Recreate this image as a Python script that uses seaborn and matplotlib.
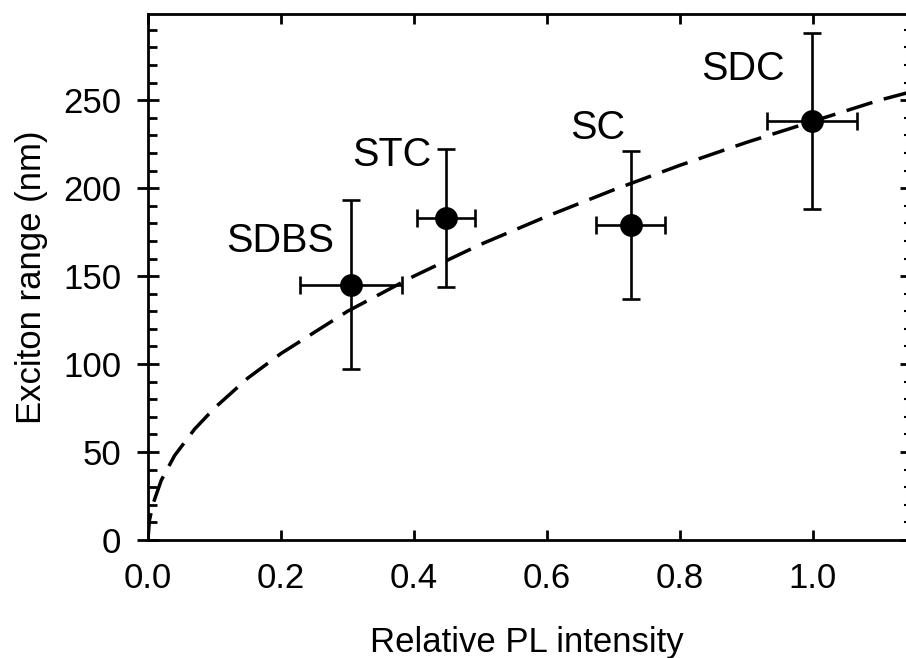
import numpy as np
import pandas as pd
import matplotlib
matplotlib.use("Agg")
import matplotlib.pyplot as plt
from matplotlib.ticker import MultipleLocator
import seaborn as sns

# --- data ---
surfactants = ["SDBS", "STC", "SC", "SDC"]
pl_intensity = [0.305, 0.448, 0.726, 0.999]
pl_err = [0.077, 0.044, 0.052, 0.068]
exciton_range = [145, 183, 179, 238]
range_err = [48, 39, 42, 50]

# label anchor positions (data units)
label_x = [0.199, 0.367, 0.677, 0.895]
label_y = [170, 219, 234, 268]

# dashed guide curve, read at several points
fit_x = [0.0, 0.002, 0.008, 0.02, 0.04, 0.07, 0.1, 0.15, 0.2, 0.3, 0.4,
         0.5, 0.6, 0.7, 0.8, 0.9, 1.0, 1.1, 1.15]
fit_y = [0, 11, 21, 34, 48, 63, 75, 92, 106, 130, 150,
         168, 184, 199, 213, 226, 238, 250, 255]

points_df = pd.DataFrame({"x": pl_intensity, "y": exciton_range, "name": surfactants})
fit_df = pd.DataFrame({"x": fit_x, "y": fit_y})

sns.set_style("ticks")
plt.rcParams["font.family"] = ["Liberation Sans", "DejaVu Sans"]
plt.rcParams["axes.linewidth"] = 2.0
plt.rcParams["text.color"] = "black"
plt.rcParams["axes.labelcolor"] = "black"
plt.rcParams["xtick.color"] = "black"
plt.rcParams["ytick.color"] = "black"
fs = 25
fs_label = 28.5

fig = plt.figure(figsize=(9.06, 6.58), dpi=100)
ax = fig.add_axes([148 / 906, 1 - 540 / 658, 1 - 148 / 906, (540 - 14) / 658])

# guide curve
sns.lineplot(data=fit_df, x="x", y="y", color="black", lw=2.5, ax=ax)
ax.lines[-1].set_linestyle((0, (7.8, 3.4)))

# measured points with error bars
ax.errorbar(pl_intensity, exciton_range, xerr=pl_err, yerr=range_err,
            fmt="none", ecolor="black", elinewidth=1.9, capsize=6.5,
            capthick=1.9, zorder=3)
sns.scatterplot(data=points_df, x="x", y="y", color="black", s=270,
                edgecolor="black", linewidth=0, zorder=4, ax=ax)

for name, lx, ly in zip(surfactants, label_x, label_y):
    ax.text(lx, ly, name, fontsize=fs_label, ha="center", va="center",
            color="black")

ax.set_xlim(0, 1.14)
ax.set_ylim(0, 299)
ax.set_xticks([0.0, 0.2, 0.4, 0.6, 0.8, 1.0])
ax.set_xticklabels(["0.0", "0.2", "0.4", "0.6", "0.8", "1.0"])
ax.set_yticks([0, 50, 100, 150, 200, 250])
ax.yaxis.set_minor_locator(MultipleLocator(10))

ax.set_xlabel("Relative PL intensity", fontsize=fs, labelpad=22)
ax.set_ylabel("Exciton range (nm)", fontsize=fs, labelpad=11)

ax.spines["right"].set_visible(False)
for s in ["left", "bottom", "top"]:
    ax.spines[s].set_color("black")

ax.tick_params(axis="x", which="major", direction="in", length=7, width=2,
               top=True, bottom=True, labelsize=fs, pad=16)
ax.tick_params(axis="y", which="major", direction="inout", length=16.5,
               width=2, left=True, right=False, labelsize=fs, pad=11)
ax.tick_params(axis="y", which="minor", direction="in", length=6.5,
               width=2, left=True, right=False)
ax.tick_params(axis="x", which="minor", bottom=False, top=False)

# short marks standing in for the clipped right axis
ax2 = ax.twinx()
ax2.set_ylim(ax.get_ylim())
ax2.yaxis.set_major_locator(MultipleLocator(50))
ax2.yaxis.set_minor_locator(MultipleLocator(10))
ax2.tick_params(axis="y", which="major", direction="in", length=4.5, width=2,
                labelright=False)
ax2.tick_params(axis="y", which="minor", direction="in", length=1.2, width=1.5)
for s in ax2.spines.values():
    s.set_visible(False)

fig.savefig("out.png", dpi=100)
